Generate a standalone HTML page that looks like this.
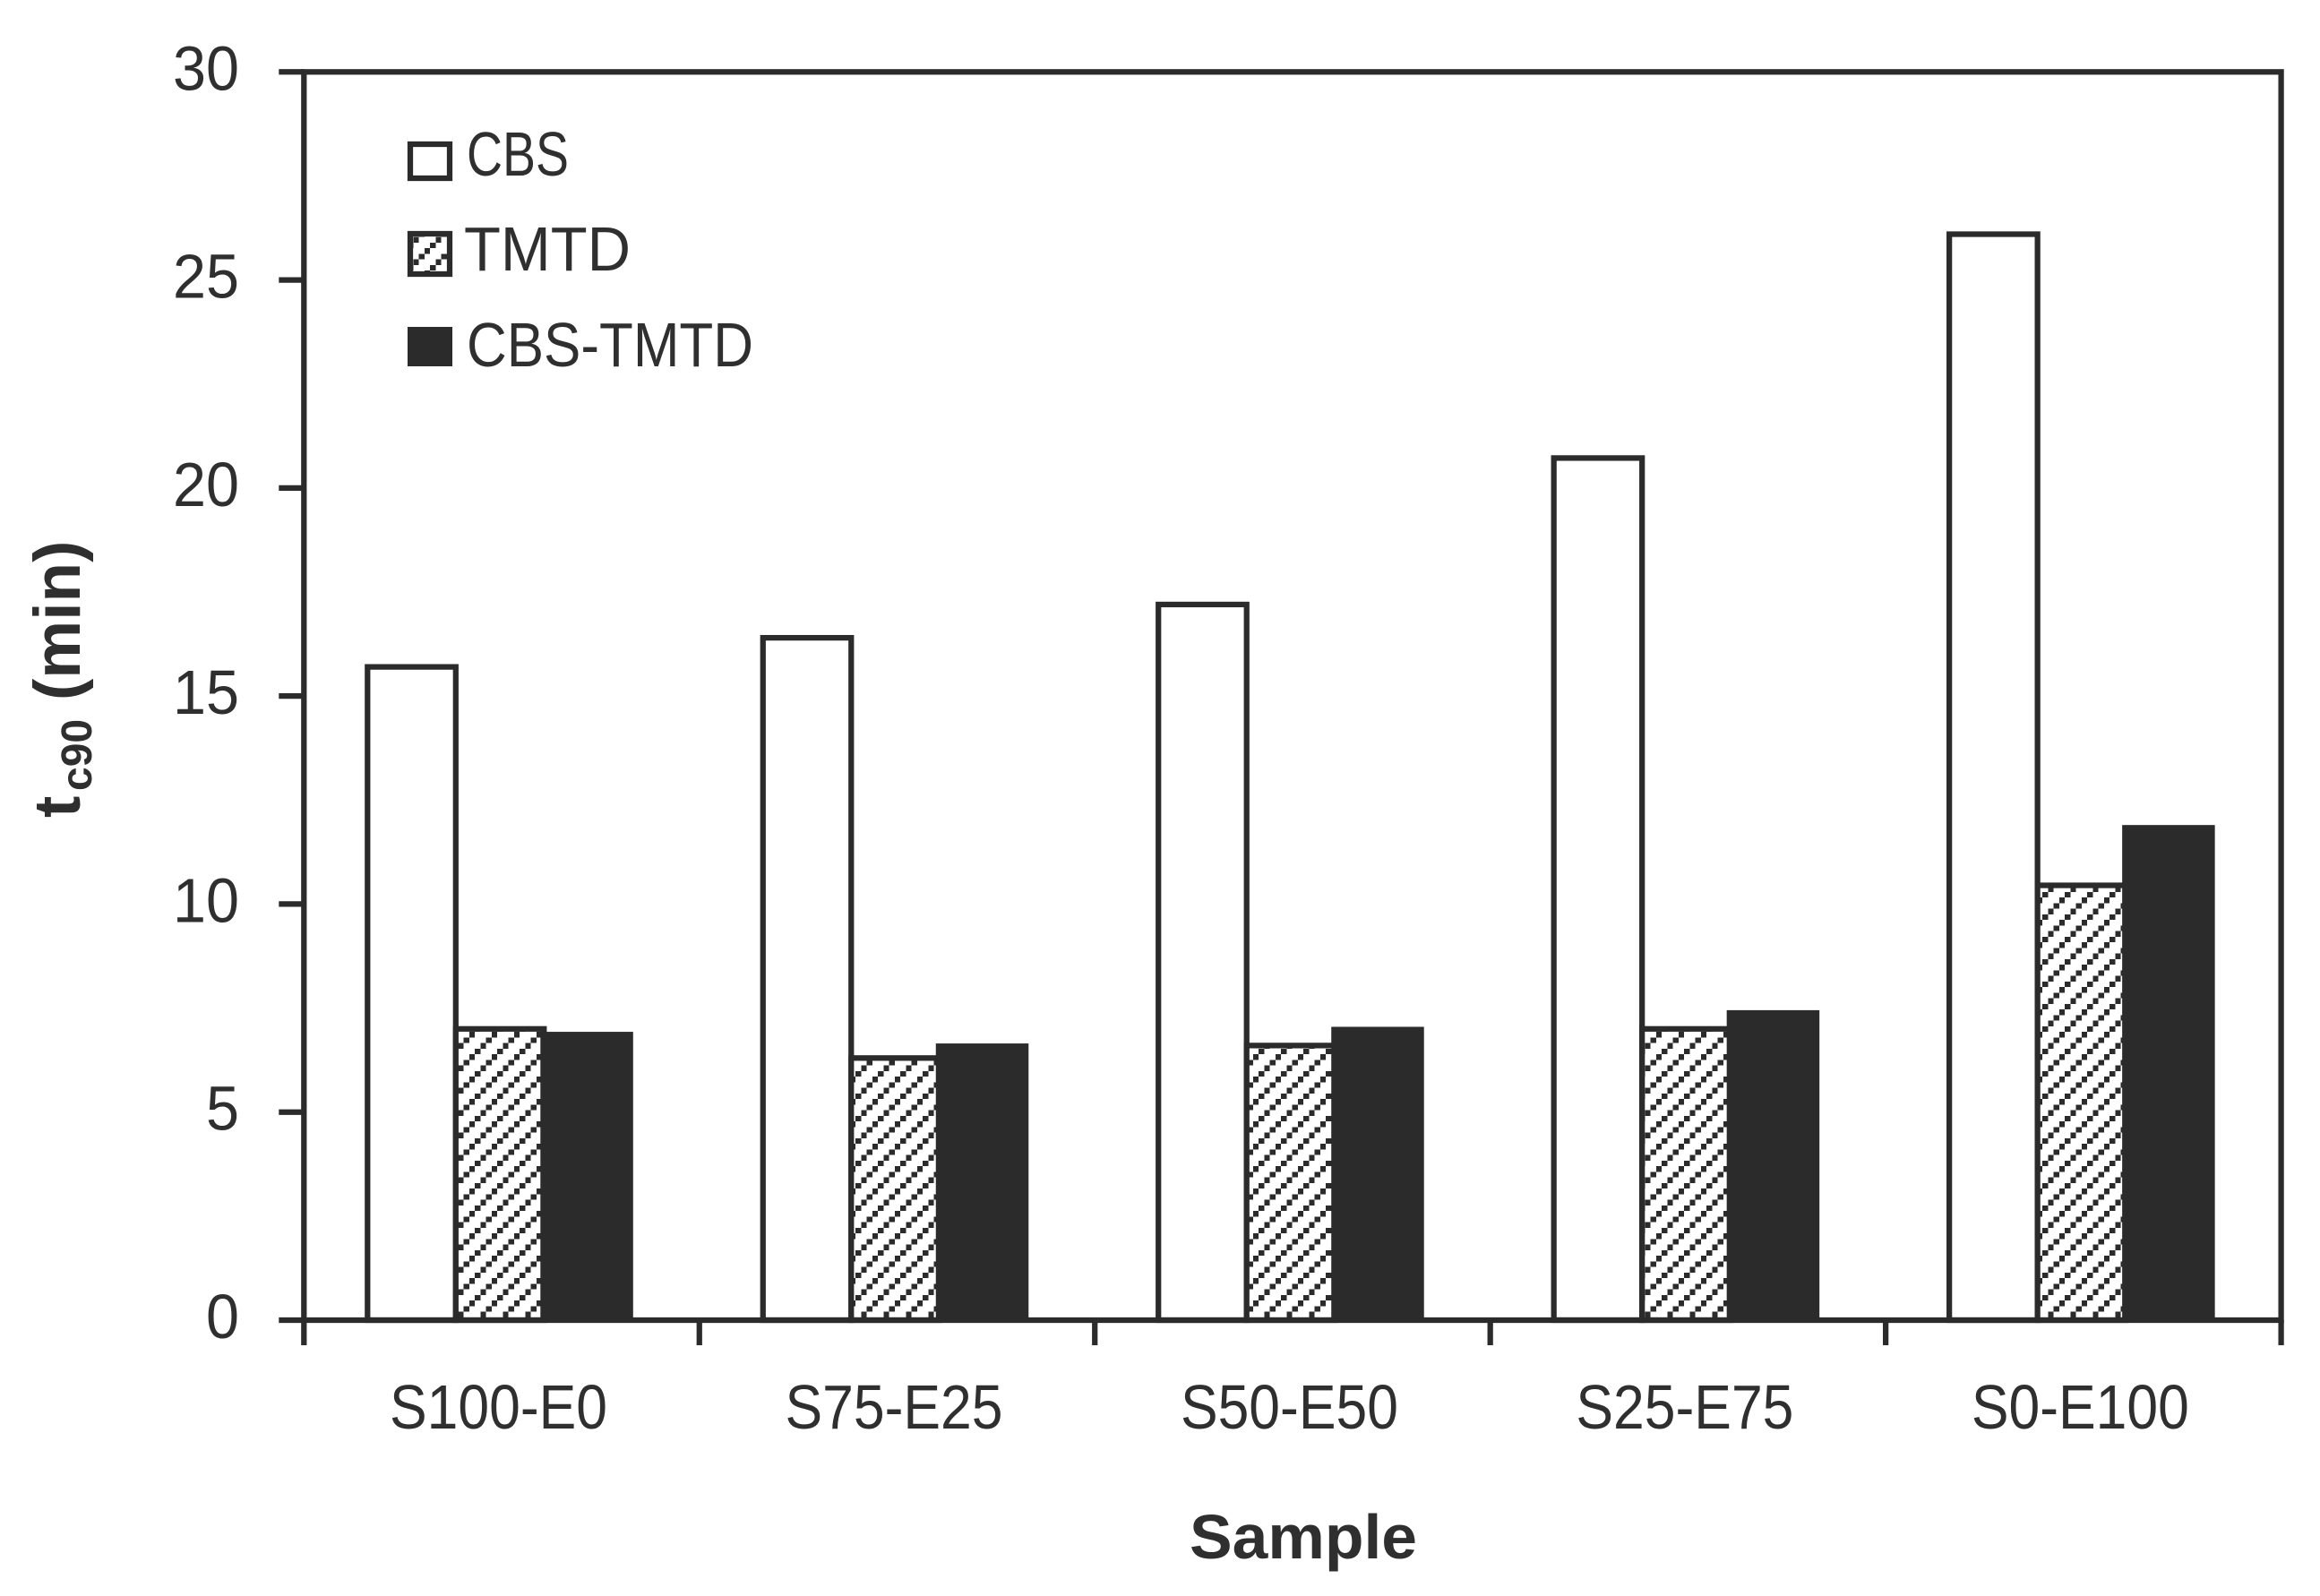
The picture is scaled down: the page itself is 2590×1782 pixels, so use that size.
<!DOCTYPE html>
<html lang="en">
<head>
<meta charset="utf-8">
<title>tc90 by sample</title>
<style>
  html, body { margin: 0; padding: 0; background: #fff; }
  svg { display: block; }
  text { font-family: "Liberation Sans", sans-serif; fill: #2f2f2f; }
</style>
</head>
<body>
<svg id="chart" xmlns="http://www.w3.org/2000/svg" width="2590" height="1782" viewBox="0 0 2590 1782">
  <defs>
    <pattern id="hatch" patternUnits="userSpaceOnUse" x="505" y="1152" width="25" height="25">
      <g fill="#2b2b2b" shape-rendering="crispEdges">
        <rect x="18.75" y="0" width="6.25" height="6.25"/>
        <rect x="12.5" y="6.25" width="6.25" height="6.25"/>
        <rect x="6.25" y="12.5" width="6.25" height="6.25"/>
        <rect x="0" y="18.75" width="6.25" height="6.25"/>
      </g>
    </pattern>
  </defs>

  <g id="bars"></g>
  <g id="axes"></g>

  <text x="1455" y="1740" font-size="70" font-weight="700" text-anchor="middle" textLength="254" lengthAdjust="spacingAndGlyphs">Sample</text>
  <text transform="translate(89 913) rotate(-90)" font-size="73" font-weight="700"><tspan x="0">t</tspan><tspan x="30" dy="13" font-size="48">c90</tspan><tspan x="131" dy="-13">(min)</tspan></text>

  <g>
    <g>
      <rect x="458" y="161" width="44" height="38" fill="#fff" stroke="#2b2b2b" stroke-width="6.25"/>
      <text x="521" y="196" font-size="70" textLength="114" lengthAdjust="spacingAndGlyphs">CBS</text>
    </g>
    <g>
      <rect x="458" y="261" width="44" height="45" fill="#fff"/>
      <rect x="458" y="261" width="44" height="45" fill="url(#hatch)" stroke="#2b2b2b" stroke-width="6.25"/>
      <text x="518" y="302" font-size="70" textLength="186" lengthAdjust="spacingAndGlyphs">TMTD</text>
    </g>
    <g>
      <rect x="455" y="365" width="50" height="44" fill="#2b2b2b"/>
      <text x="521" y="409" font-size="70" textLength="320" lengthAdjust="spacingAndGlyphs">CBS-TMTD</text>
    </g>
  </g>
</svg>

<script>
const categories = ["S100-E0", "S75-E25", "S50-E50", "S25-E75", "S0-E100"];
const cbsValues = [15.7, 16.4, 17.2, 20.72, 26.1];
const tmtdValues = [7.0, 6.3, 6.6, 7.0, 10.45];
const cbsTmtdValues = [6.93, 6.65, 7.05, 7.45, 11.9];
const yTickLabels = [0, 5, 10, 15, 20, 25, 30];

const INK = "#2b2b2b";
const STROKE = 6.25;
const plotLeft = 339.3, plotRight = 2546.6, plotTop = 80.3, plotBottom = 1474;
const yMax = 30;
const barWidth = 98.5;
const groupInset = 71;
const NS = "http://www.w3.org/2000/svg";

function yScale(v) {
  return plotBottom - (v / yMax) * (plotBottom - plotTop);
}
function bandStep() {
  return (plotRight - plotLeft) / categories.length;
}
function bandEdge(i) {
  return plotLeft + i * bandStep();
}
function groupStart(i) {
  return bandEdge(i) + groupInset;
}
function make(tag, attrs, parent) {
  const el = document.createElementNS(NS, tag);
  for (const k in attrs) el.setAttribute(k, attrs[k]);
  parent.appendChild(el);
  return el;
}

const barsLayer = document.getElementById("bars");
const axesLayer = document.getElementById("axes");

categories.forEach(function (cat, i) {
  const s = groupStart(i);
  const key = cat.toLowerCase();

  const cbsBar = make("rect", {
    x: s, y: yScale(cbsValues[i]), width: barWidth,
    height: plotBottom - yScale(cbsValues[i]),
    fill: "#fff", stroke: INK, "stroke-width": STROKE
  }, barsLayer);
  
  

  const tmtdBase = make("rect", {
    x: s + barWidth, y: yScale(tmtdValues[i]), width: barWidth,
    height: plotBottom - yScale(tmtdValues[i]),
    fill: "#fff"
  }, barsLayer);
  
  

  const tmtdBar = make("rect", {
    x: s + barWidth, y: yScale(tmtdValues[i]), width: barWidth,
    height: plotBottom - yScale(tmtdValues[i]),
    fill: "url(#hatch)", stroke: INK, "stroke-width": STROKE
  }, barsLayer);
  
  

  const comboBar = make("rect", {
    x: s + 2 * barWidth - 4, y: yScale(cbsTmtdValues[i]), width: barWidth + 5,
    height: plotBottom - yScale(cbsTmtdValues[i]),
    fill: INK
  }, barsLayer);
  
  

  const xLabel = make("text", {
    x: bandEdge(i) + bandStep() / 2 - 3.5, y: 1595, "font-size": 70,
    "text-anchor": "middle", textLength: 243, lengthAdjust: "spacingAndGlyphs"
  }, axesLayer);
  xLabel.textContent = cat;
  
  
});

const frame = make("rect", {
  x: plotLeft, y: plotTop, width: plotRight - plotLeft, height: plotBottom - plotTop,
  fill: "none", stroke: INK, "stroke-width": STROKE
}, axesLayer);



yTickLabels.forEach(function (t) {
  const tick = make("line", {
    x1: plotLeft - 28, x2: plotLeft, y1: yScale(t), y2: yScale(t),
    stroke: INK, "stroke-width": STROKE
  }, axesLayer);
  
  

  const label = make("text", {
    x: 267, y: yScale(t) + 20, "font-size": 70, "text-anchor": "end",
    textLength: String(t).length === 2 ? 74 : 37, lengthAdjust: "spacingAndGlyphs"
  }, axesLayer);
  label.textContent = String(t);
  
  
});

for (let i = 0; i <= categories.length; i++) {
  const xTick = make("line", {
    x1: bandEdge(i), x2: bandEdge(i), y1: plotBottom, y2: plotBottom + 28,
    stroke: INK, "stroke-width": STROKE
  }, axesLayer);
  
  
}
</script>
</body>
</html>
